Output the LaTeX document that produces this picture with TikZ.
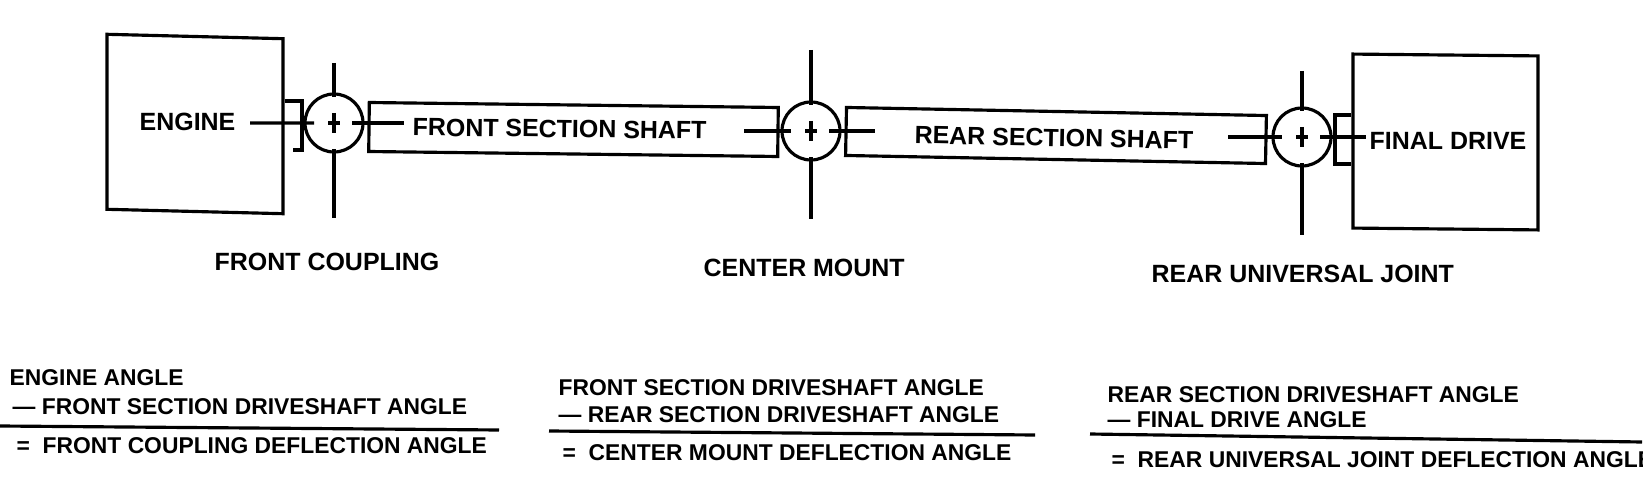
\documentclass[tikz,border=0pt]{standalone}
\usepackage{fontspec}
\setmainfont{Liberation Sans}
\tikzset{
	part/.style = {draw, line width = 0.9pt, inner sep = 0pt},
	joint/.style = {draw, circle, line width = 0.9pt, minimum size = 0.58cm, inner sep = 0pt},
	axis/.style = {line width = 0.9pt},
	partlabel/.style = {anchor = west, inner sep = 0pt, font = \fontsize{7.1}{9}\selectfont\bfseries},
	anglelabel/.style = {anchor = west, inner sep = 0pt, font = \fontsize{6.5}{8}\selectfont\bfseries}
}
\begin{document}
\begin{tikzpicture}
	\useasboundingbox (0,0) rectangle (16.48,5.02);
	\clip (0,0) rectangle (16.42,5.02);
	\node [part, minimum width = 1.76cm, minimum height = 1.75cm, yslant = -0.025] (engine) at (1.95,3.78) {};
	\node [part, minimum width = 4.09cm, minimum height = 0.49cm, rotate = -0.7] (frontshaft) at (5.735,3.725) {};
	\node [part, minimum width = 4.20cm, minimum height = 0.48cm, rotate = -1.1] (rearshaft) at (10.56,3.665) {};
	\node [part, minimum width = 1.85cm, minimum height = 1.74cm, yslant = -0.01] (finaldrive) at (14.455,3.60) {};
	\node [joint] (coupling) at (3.34,3.79) {};
	\node [joint] (mount) at (8.11,3.71) {};
	\node [joint] (universal) at (13.02,3.65) {};
	\node [partlabel] (enginelabel) at (1.39,3.80) {ENGINE};
	\node [partlabel, rotate = -0.7] (frontlabel) at (4.12,3.75) {FRONT SECTION SHAFT};
	\node [partlabel, rotate = -1.1] (rearlabel) at (9.14,3.67) {REAR SECTION SHAFT};
	\node [partlabel] (finallabel) at (13.69,3.61) {FINAL DRIVE};
	\node [partlabel] (couplinglabel) at (2.14,2.40) {FRONT COUPLING};
	\node [partlabel] (mountlabel) at (7.03,2.34) {CENTER MOUNT};
	\node [partlabel] (universallabel) at (11.51,2.28) {REAR UNIVERSAL JOINT};
	\coordinate (couplingtop) at (3.34,4.39);
	\coordinate (couplingbottom) at (3.34,2.84);
	\coordinate (mounttop) at (8.11,4.52);
	\coordinate (mountbottom) at (8.11,2.83);
	\coordinate (universaltop) at (13.02,4.31);
	\coordinate (universalbottom) at (13.02,2.67);
	\coordinate (frontin) at (4.04,3.79);
	\coordinate (frontout) at (7.44,3.71);
	\coordinate (rearin) at (8.75,3.71);
	\coordinate (rearout) at (12.28,3.65);
	\coordinate (finalin) at (13.66,3.65);
	\draw [axis] (couplingtop) -- ([yshift = -0.05cm]coupling.north);
	\draw [axis] (couplingbottom) -- ([yshift = 0.05cm]coupling.south);
	\draw [axis] (mounttop) -- ([yshift = -0.05cm]mount.north);
	\draw [axis] (mountbottom) -- ([yshift = 0.05cm]mount.south);
	\draw [axis] (universaltop) -- ([yshift = -0.05cm]universal.north);
	\draw [axis] (universalbottom) -- ([yshift = 0.05cm]universal.south);
	\draw [axis] ([yshift = 0.1cm]coupling.center) -- ([yshift = -0.1cm]coupling.center);
	\draw [axis] ([xshift = -0.06cm]coupling.center) -- ([xshift = 0.06cm]coupling.center);
	\draw [axis] ([yshift = 0.1cm]mount.center) -- ([yshift = -0.1cm]mount.center);
	\draw [axis] ([xshift = -0.06cm]mount.center) -- ([xshift = 0.06cm]mount.center);
	\draw [axis] ([yshift = 0.1cm]universal.center) -- ([yshift = -0.1cm]universal.center);
	\draw [axis] ([xshift = -0.06cm]universal.center) -- ([xshift = 0.06cm]universal.center);
	\draw [axis] ([xshift = 0.14cm, yshift = -0.01cm]enginelabel.east) -- ([xshift = -0.2cm]coupling.center);
	\draw [axis] ([xshift = 0.18cm]coupling.center) -- (frontin);
	\draw [axis] (frontout) -- ([xshift = -0.2cm]mount.center);
	\draw [axis] ([xshift = 0.18cm]mount.center) -- (rearin);
	\draw [axis] (rearout) -- ([xshift = -0.2cm]universal.center);
	\draw [axis] ([xshift = 0.18cm]universal.center) -- (finalin);
	\draw [part] (engine.east |- 0,4.01) -- (3.02,4.01) -- (3.02,3.52) -- (2.93,3.52);
	\draw [part] (finaldrive.west |- 0,3.87) -- (13.35,3.87) -- (13.35,3.38) -- (finaldrive.west |- 0,3.38);
	\node [anglelabel] (enginea) at (0.09,1.24) {ENGINE ANGLE};
	\node [anglelabel] (engineb) at (0.12,0.95) {— FRONT SECTION DRIVESHAFT ANGLE};
	\node [anglelabel] (enginec) at (0.16,0.56) {=~~FRONT COUPLING DEFLECTION ANGLE};
	\node [anglelabel] (mounta) at (5.58,1.14) {FRONT SECTION DRIVESHAFT ANGLE};
	\node [anglelabel] (mountb) at (5.58,0.87) {— REAR SECTION DRIVESHAFT ANGLE};
	\node [anglelabel] (mountc) at (5.62,0.49) {=~~CENTER MOUNT DEFLECTION ANGLE};
	\node [anglelabel] (reara) at (11.07,1.07) {REAR SECTION DRIVESHAFT ANGLE};
	\node [anglelabel] (rearb) at (11.07,0.82) {— FINAL DRIVE ANGLE};
	\node [anglelabel] (rearc) at (11.11,0.42) {=~~REAR UNIVERSAL JOINT DEFLECTION ANGLE};
	\coordinate (rulea) at (0,0.76);
	\coordinate (ruleb) at (4.99,0.72);
	\coordinate (rulec) at (5.49,0.71);
	\coordinate (ruled) at (10.35,0.67);
	\coordinate (rulee) at (10.90,0.68);
	\coordinate (rulef) at (16.42,0.60);
	\draw [part] (rulea) -- (ruleb);
	\draw [part] (rulec) -- (ruled);
	\draw [part] (rulee) -- (rulef);
\end{tikzpicture}
\end{document}
